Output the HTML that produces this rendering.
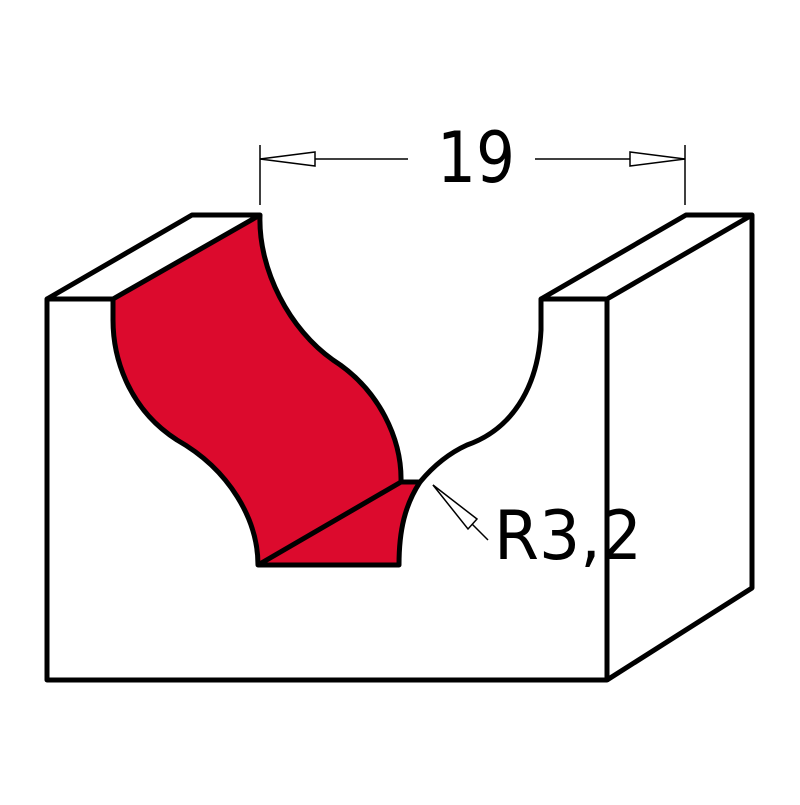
<!DOCTYPE html>
<html><head><style>html,body{margin:0;padding:0;background:#fff}</style></head>
<body>
<svg width="800" height="800" viewBox="0 0 800 800" xmlns="http://www.w3.org/2000/svg">
<g fill="none" stroke="#000" stroke-width="5" stroke-linejoin="round">
<path d="M113,299 L260,215 C258,270 290,330 333,360 C380,390 402,440 401,482 L420,482 C405,505 399,530 399,565 L258,565 C258,520 230,470 177,440 C130,410 113,360 113,320 Z" fill="#dc0a2d"/>
<path d="M258,565 L401,482"/>
<path d="M113,299 L47,299 L47,680 L607,680 L607,299 L541,299 L541,330 C538,390 510,430 467,445 C445,455 430,470 420,482"/>
<path d="M47,299 L192,215 L260,215"/>
<path d="M541,299 L686,215 L752,215 L752,588 L607,680"/>
<path d="M607,299 L752,215"/>
</g>
<g stroke="#000" stroke-width="1.5" fill="none">
<path d="M260,145 V205 M685,145 V205"/>
<path d="M260,159 H408 M535,159 H685"/>
<path d="M260,159 L315,152 L315,166 Z M685,159 L630,152 L630,166 Z" fill="#fff"/>
<path d="M433,485 L488,540"/>
<path d="M433,485 L477,519 L468,529 Z" fill="#fff"/>
</g>
<text x="437" y="182" font-family="DejaVu Sans, sans-serif" font-size="70" textLength="78" lengthAdjust="spacingAndGlyphs">19</text>
<text x="494" y="559" font-family="DejaVu Sans, sans-serif" font-size="68" textLength="148" lengthAdjust="spacingAndGlyphs">R3,2</text>
</svg>
</body></html>
